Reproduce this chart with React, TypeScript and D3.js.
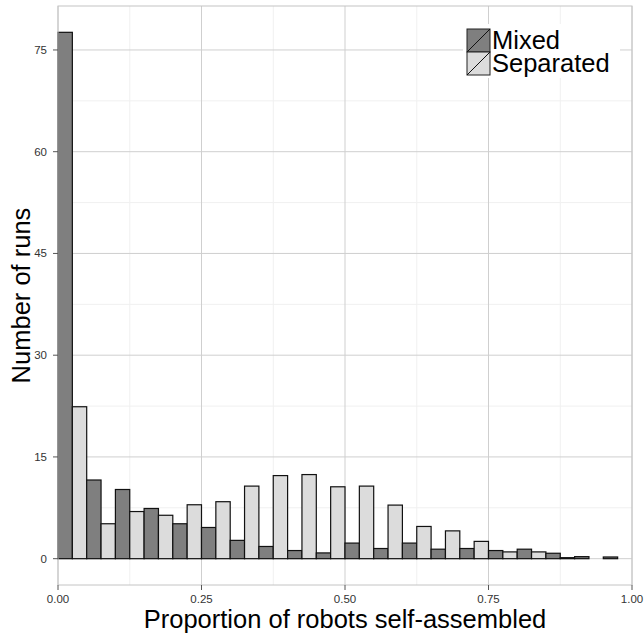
import React from "react";
import * as d3 from "d3";

const binStarts = [0, 0.05, 0.1, 0.15, 0.2, 0.25, 0.3, 0.35, 0.4, 0.45, 0.5, 0.55, 0.6, 0.65, 0.7, 0.75, 0.8, 0.85, 0.9, 0.95];
const mixedCounts = [77.6, 11.6, 10.2, 7.4, 5.15, 4.6, 2.7, 1.8, 1.2, 0.85, 2.3, 1.5, 2.3, 1.4, 1.5, 1.2, 1.4, 0.8, 0.3, 0.25];
const separatedCounts = [22.4, 5.15, 6.95, 6.4, 7.95, 8.4, 10.7, 12.25, 12.4, 10.6, 10.7, 7.9, 4.75, 4.1, 2.55, 1.0, 1.0, 0.15, 0, 0];
const seriesNames = ["Mixed", "Separated"];
const seriesFills = ["#7f7f7f", "#dcdcdc"];
const xTicks = [0, 0.25, 0.5, 0.75, 1];
const xTickLabels = ["0.00", "0.25", "0.50", "0.75", "1.00"];
const xMinor = [0.125, 0.375, 0.625, 0.875];
const yTicks = [0, 15, 30, 45, 60, 75];
const yMinor = [7.5, 22.5, 37.5, 52.5, 67.5];
const binWidth = 0.05;

const W = 644, H = 634;
const L = 58, R = 632, T = 6, B = 585;
const FONT = "'Liberation Sans', Arial, Helvetica, sans-serif";

export default function App() {
  const x = d3.scaleLinear().domain([0, 1]).range([L, R]);
  const yMax = d3.max(mixedCounts.concat(separatedCounts)) as number;
  const pad = yMax * 0.05;
  const y = d3.scaleLinear().domain([-pad, yMax + pad]).range([B, T]);

  const bars: { x0: number; x1: number; v: number; s: number }[] = [];
  binStarts.forEach((b, i) => {
    const half = binWidth / 2;
    [mixedCounts[i], separatedCounts[i]].forEach((v, s) => {
      if (v > 0) bars.push({ x0: b + s * half, x1: b + (s + 1) * half, v, s });
    });
  });

  return (
    <svg width={W} height={H} style={{ position: "absolute", left: 0, top: 0, display: "block", background: "#fff" }} fontFamily={FONT}>
      <rect x={0} y={0} width={W} height={H} fill="#fff" />
      {/* minor grid */}
      {xMinor.map((t) => (
        <line key={"xm" + t} x1={x(t)} x2={x(t)} y1={T} y2={B} stroke="#f0f0f0" strokeWidth={1} />
      ))}
      {yMinor.map((t) => (
        <line key={"ym" + t} x1={L} x2={R} y1={y(t)} y2={y(t)} stroke="#f0f0f0" strokeWidth={1} />
      ))}
      {/* major grid */}
      {xTicks.map((t) => (
        <line key={"xg" + t} x1={x(t)} x2={x(t)} y1={T} y2={B} stroke="#cfcfcf" strokeWidth={1} />
      ))}
      {yTicks.map((t) => (
        <line key={"yg" + t} x1={L} x2={R} y1={y(t)} y2={y(t)} stroke="#cfcfcf" strokeWidth={1} />
      ))}
      {/* bars */}
      {bars.map((d, i) => (
        <rect
          key={i}
          x={x(d.x0)}
          y={y(d.v)}
          width={x(d.x1) - x(d.x0)}
          height={y(0) - y(d.v)}
          fill={seriesFills[d.s]}
          stroke="#111"
          strokeWidth={1.2}
        />
      ))}
      {/* panel border */}
      <rect x={L} y={T} width={R - L} height={B - T} fill="none" stroke="#c4c4c4" strokeWidth={1} />
      {/* axes ticks */}
      {yTicks.map((t) => (
        <g key={"yt" + t}>
          <line x1={L - 5} x2={L} y1={y(t)} y2={y(t)} stroke="#555" strokeWidth={1} />
          <text x={L - 11} y={y(t)} dy="0.35em" textAnchor="end" fontSize={11.5} fill="#333">{t}</text>
        </g>
      ))}
      {xTicks.map((t, i) => (
        <g key={"xt" + t}>
          <line x1={x(t)} x2={x(t)} y1={B} y2={B + 5} stroke="#555" strokeWidth={1} />
          <text x={x(t)} y={603} textAnchor="middle" fontSize={11.5} fill="#333">{xTickLabels[i]}</text>
        </g>
      ))}
      {/* titles */}
      <text x={(L + R) / 2} y={628} textAnchor="middle" fontSize={25.5} fill="#000">Proportion of robots self-assembled</text>
      <text transform={`translate(30,${(T + B) / 2}) rotate(-90)`} textAnchor="middle" fontSize={25.5} fill="#000">Number of runs</text>
      {/* legend */}
      <rect x={463} y={24} width={157} height={54} fill="#fff" />
      {seriesNames.map((name, i) => {
        const ky = 29 + i * 23;
        return (
          <g key={name}>
            <rect x={467} y={ky} width={23} height={23} fill={seriesFills[i]} stroke="#222" strokeWidth={1} />
            <line x1={467} y1={ky + 23} x2={490} y2={ky} stroke="#111" strokeWidth={1} />
            <text x={492} y={ky + 20} fontSize={25.5} fill="#000">{name}</text>
          </g>
        );
      })}
    </svg>
  );
}
